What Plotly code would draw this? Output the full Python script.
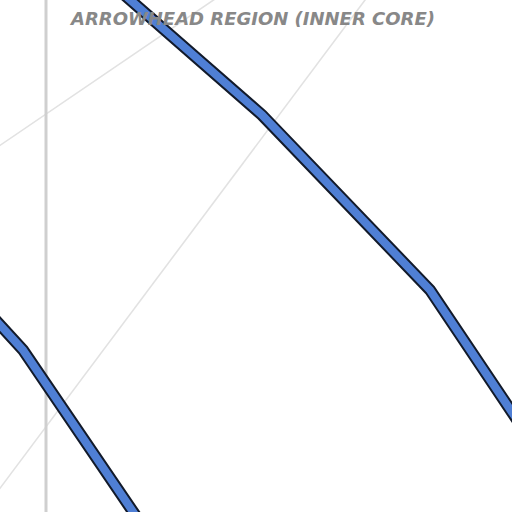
import plotly.graph_objects as go

# curve points (x, y) in plot units, y measured upward from the bottom edge
upper_x = [120, 262, 430, 530]
upper_y = [521, 397, 222, 73]
lower_x = [-10, 23, 140]
lower_y = [198, 162, -10]

# light grid strokes
grid_a_x = [-20, 240]
grid_a_y = [353, 530]
grid_b_x = [380, -20]
grid_b_y = [532, -3]
axis_x = 46

title_text = "ARROWHEAD REGION (INNER CORE)"

fig = go.Figure()

fig.add_trace(go.Scatter(x=grid_a_x, y=grid_a_y, mode="lines",
                         line=dict(color="#e2e2e2", width=1.6), hoverinfo="skip"))
fig.add_trace(go.Scatter(x=grid_b_x, y=grid_b_y, mode="lines",
                         line=dict(color="#e2e2e2", width=1.6), hoverinfo="skip"))
fig.add_trace(go.Scatter(x=[axis_x, axis_x], y=[-20, 540], mode="lines",
                         line=dict(color="#cfcfcf", width=3), hoverinfo="skip"))

for xs, ys in [(upper_x, upper_y), (lower_x, lower_y)]:
    fig.add_trace(go.Scatter(x=xs, y=ys, mode="lines",
                             line=dict(color="#121a2a", width=12), hoverinfo="skip"))
    fig.add_trace(go.Scatter(x=xs, y=ys, mode="lines",
                             line=dict(color="#4f7fd5", width=8), hoverinfo="skip"))

fig.add_annotation(x=252, y=494, xref="x", yref="y", text="<b><i>" + title_text + "</i></b>",
                   showarrow=False, font=dict(family="DejaVu Sans", size=18, color="#888888"))

fig.update_layout(
    width=512, height=512,
    margin=dict(l=0, r=0, t=0, b=0),
    paper_bgcolor="white", plot_bgcolor="white",
    showlegend=False,
    xaxis=dict(range=[0, 512], visible=False, fixedrange=True),
    yaxis=dict(range=[0, 512], visible=False, fixedrange=True),
)

# drop the default 8px body margin so the plot sits flush with the window
fig.write_html("out.html", config={"displayModeBar": False},
               post_script="document.body.style.margin='0px';")
